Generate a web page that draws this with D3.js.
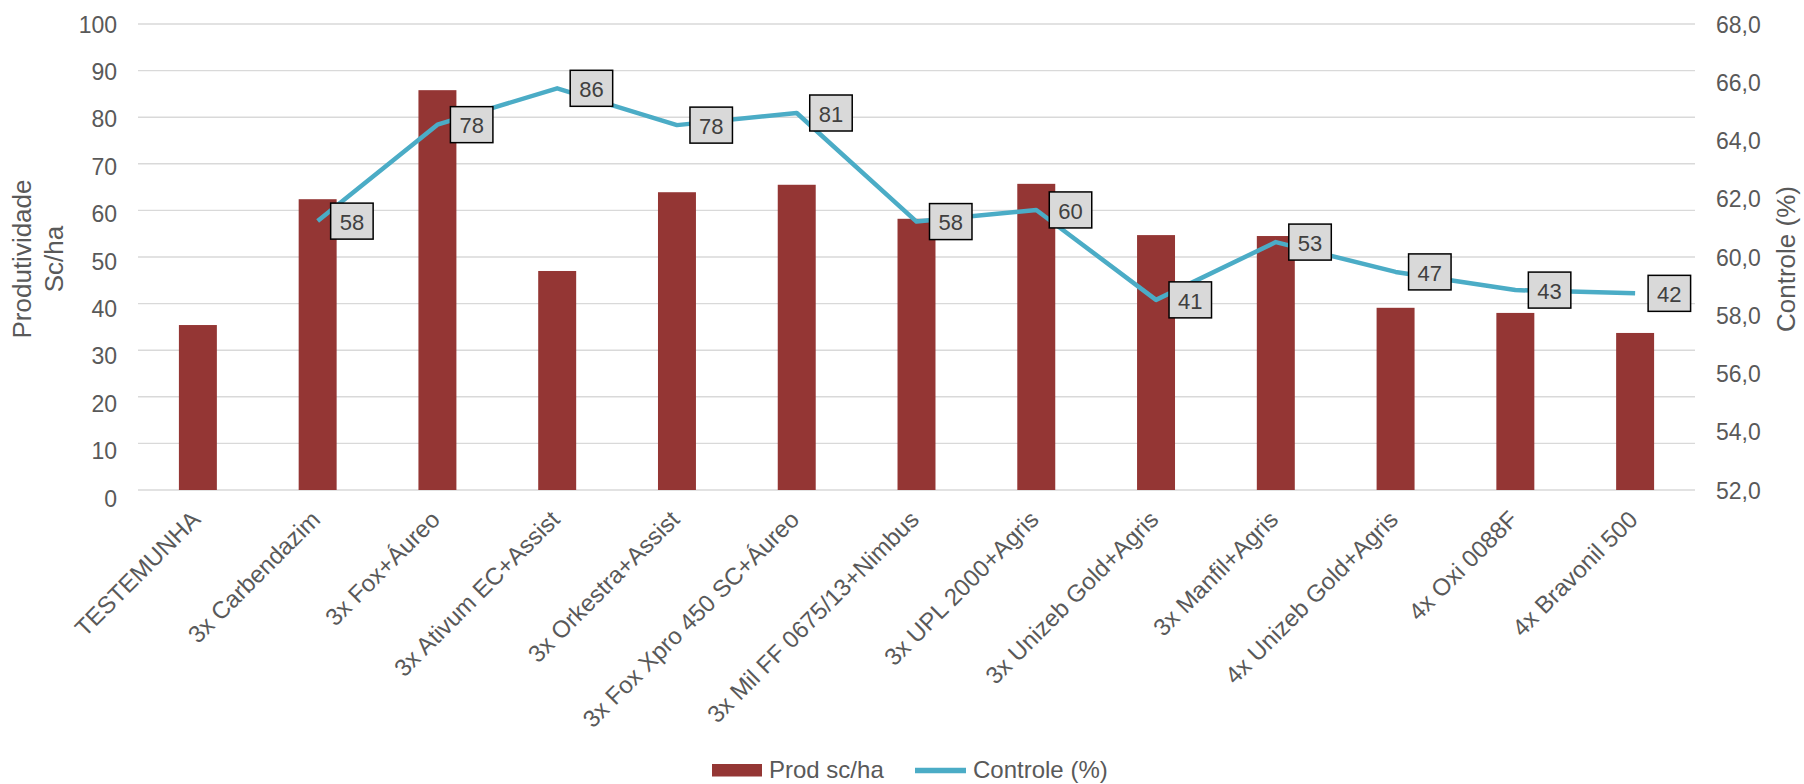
<!DOCTYPE html>
<html>
<head>
<meta charset="utf-8">
<script src="https://cdn.jsdelivr.net/npm/d3@7/dist/d3.min.js"></script>
<style>
  html, body { margin: 0; padding: 0; background: #fff; }
  svg { display: block; font-family: "Liberation Sans", Arial, sans-serif; }
</style>
</head>
<body>
<svg id="chart" width="1804" height="784"></svg>
<script>
const categories = [
  "TESTEMUNHA", "3x Carbendazim", "3x Fox+Áureo", "3x Ativum EC+Assist",
  "3x Orkestra+Assist", "3x Fox Xpro 450 SC+Áureo", "3x Mil FF 0675/13+Nimbus",
  "3x UPL 2000+Agris", "3x Unizeb Gold+Agris", "3x Manfil+Agris",
  "4x Unizeb Gold+Agris", "4x Oxi 0088F", "4x Bravonil 500"
];
const prodValues = [35.4, 62.4, 85.8, 47.0, 63.9, 65.5, 58.2, 65.7, 54.7, 54.5, 39.1, 38.0, 33.7];
const controleValues = [null, 57.7, 78.4, 86.2, 78.3, 80.9, 57.6, 60.1, 40.8, 53.2, 46.8, 42.9, 42.2];
const leftTicks = [0, 10, 20, 30, 40, 50, 60, 70, 80, 90, 100];
const rightTicks = [52, 54, 56, 58, 60, 62, 64, 66, 68];
const seriesNames = ["Prod sc/ha", "Controle (%)"];

const svg = d3.select("#chart");
const pLeft = 138, pRight = 1695, pTop = 24, pBottom = 490;
const textColor = "#595959";
const barColor = "#943634";
const lineColor = "#4bacc6";

const x = d3.scaleBand().domain(categories).range([pLeft, pRight])
  .paddingInner(0.683).paddingOuter(0.3415);
const y = d3.scaleLinear().domain([0, 100]).range([pBottom, pTop]);
const yLab = d3.scaleLinear().domain([0, 100]).range([pBottom + 8, pTop]);
const y2 = d3.scaleLinear().domain([52, 68]).range([pBottom, pTop]);
const cx = c => x(c) + x.bandwidth() / 2;

// gridlines
svg.append("g").selectAll("line").data(leftTicks).join("line")
  .attr("x1", pLeft).attr("x2", pRight)
  .attr("y1", d => y(d)).attr("y2", d => y(d))
  .attr("stroke", "#d9d9d9").attr("stroke-width", 1.4);

// left axis
const gl = svg.append("g").attr("transform", `translate(${pLeft - 21},0)`)
  .call(d3.axisLeft(yLab).tickValues(leftTicks).tickSize(0).tickPadding(0));
gl.select(".domain").remove();
gl.selectAll("text").attr("fill", textColor).style("font-size", "23px")
  .style("font-family", "Liberation Sans, Arial, sans-serif").attr("dy", "0.35em");

// right axis
const gr = svg.append("g").attr("transform", `translate(${pRight + 21},0)`)
  .call(d3.axisRight(y2).tickValues(rightTicks).tickSize(0).tickPadding(0)
    .tickFormat(d => d3.format(".1f")(d).replace(".", ",")));
gr.select(".domain").remove();
gr.selectAll("text").attr("fill", textColor).style("font-size", "23px")
  .style("font-family", "Liberation Sans, Arial, sans-serif").attr("dy", "0.35em");

// x axis labels
const gx = svg.append("g").attr("transform", `translate(0,${pBottom})`)
  .call(d3.axisBottom(x).tickSize(0).tickPadding(0));
gx.select(".domain").remove();
gx.selectAll(".tick text")
  .attr("fill", textColor).style("font-size", "24px")
  .style("font-family", "Liberation Sans, Arial, sans-serif")
  .attr("text-anchor", "end")
  .attr("dy", null).attr("y", 0)
  .attr("transform", "translate(4,31) rotate(-45)");

// bars
svg.append("g").selectAll("rect").data(categories).join("rect")
  .attr("x", c => x(c)).attr("width", x.bandwidth())
  .attr("y", (c, i) => y(prodValues[i]))
  .attr("height", (c, i) => y(0) - y(prodValues[i]))
  .attr("fill", barColor);

// line
const pts = categories.map((c, i) => ({c, v: controleValues[i]})).filter(d => d.v != null);
svg.append("path").datum(pts)
  .attr("d", d3.line().x(d => cx(d.c)).y(d => y(d.v)))
  .attr("fill", "none").attr("stroke", lineColor).attr("stroke-width", 4.5)
  .attr("stroke-linejoin", "round");

// data labels
const lg = svg.append("g");
pts.forEach(d => {
  const px = cx(d.c), py = y(d.v);
  const g = lg.append("g");
  const t = g.append("text").text(Math.round(d.v))
    .attr("fill", "#404040").style("font-size", "22px")
    .attr("text-anchor", "middle").attr("dy", "0.35em");
  const w = t.node().getComputedTextLength() + 18;
  const bx = px + 13;
  g.insert("rect", "text").attr("x", bx).attr("y", py - 18)
    .attr("width", w).attr("height", 36)
    .attr("fill", "#d9d9d9").attr("stroke", "#000").attr("stroke-width", 1.5);
  t.attr("x", bx + w / 2).attr("y", py + 1);
});

// axis titles
svg.append("text").attr("transform", "translate(31,259) rotate(-90)")
  .attr("text-anchor", "middle").attr("fill", textColor).style("font-size", "26px")
  .text("Produtividade");
svg.append("text").attr("transform", "translate(63,259) rotate(-90)")
  .attr("text-anchor", "middle").attr("fill", textColor).style("font-size", "26px")
  .text("Sc/ha");
svg.append("text").attr("transform", "translate(1795,259) rotate(-90)")
  .attr("text-anchor", "middle").attr("fill", textColor).style("font-size", "26px")
  .text("Controle (%)");

// legend
const leg = svg.append("g");
leg.append("rect").attr("x", 712).attr("y", 764).attr("width", 50).attr("height", 12.5).attr("fill", barColor);
leg.append("text").attr("x", 769).attr("y", 778).attr("fill", textColor).style("font-size", "24px").text(seriesNames[0]);
leg.append("line").attr("x1", 915).attr("x2", 966).attr("y1", 770.5).attr("y2", 770.5)
  .attr("stroke", lineColor).attr("stroke-width", 5.5);
leg.append("text").attr("x", 973).attr("y", 778).attr("fill", textColor).style("font-size", "24px").text(seriesNames[1]);
</script>
</body>
</html>
